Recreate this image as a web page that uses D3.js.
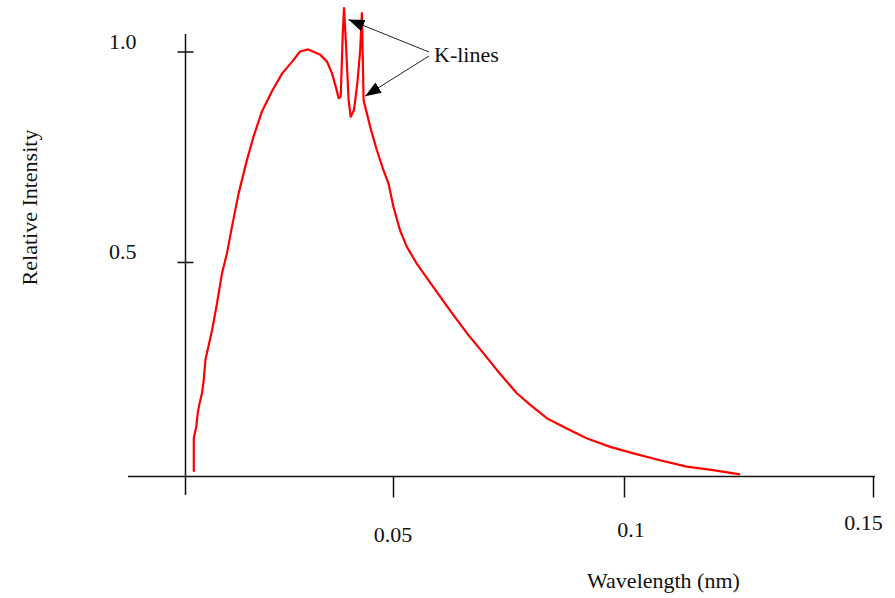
<!DOCTYPE html>
<html>
<head>
<meta charset="utf-8">
<script src="https://cdn.jsdelivr.net/npm/d3@7"></script>
<style>
  body { margin: 0; background: #fff; }
  text { font-family: "Liberation Serif", "Times New Roman", serif; fill: #111; }
</style>
</head>
<body>
<div id="chart"></div>
<script>
var width = 895,
    height = 598;

// wavelength (nm) and relative intensity
var wavelength = [0.0020, 0.0020, 0.0026, 0.0030, 0.0034, 0.0040, 0.0044, 0.0048, 0.0064, 0.0076,
    0.0088, 0.0100, 0.0112, 0.0128, 0.0148, 0.0164, 0.0184, 0.0208, 0.0233, 0.0257,
    0.0276, 0.0296, 0.0325, 0.0341, 0.0353, 0.0363, 0.0369, 0.0374, 0.0379, 0.0382,
    0.0387, 0.0393, 0.0398, 0.0406, 0.0414, 0.0421, 0.0425, 0.0428, 0.0429, 0.0437,
    0.0445, 0.0461, 0.0477, 0.0489, 0.0501, 0.0515, 0.0530, 0.0551, 0.0587, 0.0623,
    0.0660, 0.0696, 0.0732, 0.0768, 0.0797, 0.0833, 0.0876, 0.0919, 0.0970, 0.1019,
    0.1072, 0.1126, 0.1179, 0.1233];
var intensity = [0.011, 0.090, 0.116, 0.151, 0.171, 0.195, 0.225, 0.272, 0.341, 0.404,
    0.474, 0.521, 0.584, 0.663, 0.742, 0.798, 0.857, 0.905, 0.948, 0.976,
    1.000, 1.005, 0.992, 0.976, 0.948, 0.913, 0.889, 0.893, 1.044, 1.103,
    1.011, 0.885, 0.845, 0.861, 0.924, 1.004, 1.091, 0.944, 0.885, 0.853,
    0.821, 0.766, 0.718, 0.687, 0.631, 0.576, 0.536, 0.497, 0.442, 0.388,
    0.334, 0.287, 0.239, 0.194, 0.167, 0.136, 0.112, 0.089, 0.069, 0.054,
    0.038, 0.023, 0.015, 0.005];

var xTicks = [0.05, 0.1, 0.15],
    xTickLabels = ["0.05", "0.1", "0.15"];
var yTicks = [0.5, 1],
    yTickLabels = ["0.5", "1.0"];

// where the two K-line arrows point (data units)
var kLines = [{x: 0.03926, y: 1.076}, {x: 0.04327, y: 0.894}];

// label nudges (px) for the hand placed x tick labels
var xLabelDx = [0, 7, -9.5],
    xLabelBase = [542, 537, 530];

var series = wavelength.map(function (d, i) { return {w: d, v: intensity[i]}; });

var x = d3.scaleLinear().domain([0, 0.05, 0.1, 0.15]).range([185.5, 393, 624, 873]);
var y = d3.scaleLinear().domain([0, 0.5, 1]).range([476.5, 262, 51.5]);

var svg = d3.select("#chart").append("svg")
    .attr("width", width)
    .attr("height", height);

var defs = svg.append("defs");
defs.append("marker")
    .attr("id", "head")
    .attr("viewBox", "0 0 16 12")
    .attr("refX", 16)
    .attr("refY", 6)
    .attr("markerWidth", 16)
    .attr("markerHeight", 12)
    .attr("markerUnits", "userSpaceOnUse")
    .attr("orient", "auto")
    .append("path")
    .attr("d", "M0,0 L16,6 L0,12 Z")
    .attr("fill", "#000");

// axis lines
svg.append("line")
    .attr("x1", x(0)).attr("x2", x(0))
    .attr("y1", 34).attr("y2", 495)
    .attr("stroke", "#111").attr("stroke-width", 1.5);
svg.append("line")
    .attr("x1", 128).attr("x2", 875)
    .attr("y1", y(0)).attr("y2", y(0))
    .attr("stroke", "#111").attr("stroke-width", 1.5);

// y ticks, crossing the axis
var yAxis = svg.append("g")
    .attr("transform", "translate(" + x(0) + ",0)")
    .call(d3.axisLeft(y).tickValues(yTicks).tickSize(8).tickFormat(""));
yAxis.select(".domain").remove();
yAxis.selectAll(".tick line")
    .attr("x1", -8).attr("x2", 8)
    .attr("stroke", "#111").attr("stroke-width", 1.5);

svg.selectAll(".ylab")
    .data(yTicks)
    .enter().append("text")
    .attr("class", "ylab")
    .attr("x", x(0) - 49)
    .attr("y", function (d) { return y(d) - 3; })
    .attr("font-size", 22)
    .style("text-anchor", "end")
    .text(function (d, i) { return yTickLabels[i]; });

// x ticks, below the axis only
var xAxis = svg.append("g")
    .attr("transform", "translate(0," + y(0) + ")")
    .call(d3.axisBottom(x).tickValues(xTicks).tickSize(21).tickFormat(""));
xAxis.select(".domain").remove();
xAxis.selectAll(".tick line")
    .attr("stroke", "#111").attr("stroke-width", 1.5);

svg.selectAll(".xlab")
    .data(xTicks)
    .enter().append("text")
    .attr("class", "xlab")
    .attr("x", function (d, i) { return x(d) + xLabelDx[i]; })
    .attr("y", function (d, i) { return xLabelBase[i]; })
    .attr("font-size", 22)
    .style("text-anchor", "middle")
    .text(function (d, i) { return xTickLabels[i]; });

// spectrum
var line = d3.line()
    .x(function (d) { return x(d.w); })
    .y(function (d) { return y(d.v); });
svg.append("path")
    .datum(series)
    .attr("d", line)
    .attr("fill", "none")
    .attr("stroke", "#ff0000")
    .attr("stroke-width", 2.2)
    .attr("stroke-linejoin", "round");

// K-lines annotation
svg.selectAll(".karrow")
    .data(kLines)
    .enter().append("line")
    .attr("class", "karrow")
    .attr("x1", 429)
    .attr("y1", function (d, i) { return 52 + i * 4; })
    .attr("x2", function (d) { return x(d.x); })
    .attr("y2", function (d) { return y(d.y); })
    .attr("stroke", "#222")
    .attr("stroke-width", 1)
    .attr("marker-end", "url(#head)");
svg.append("text")
    .attr("x", 434)
    .attr("y", 62)
    .attr("font-size", 22)
    .text("K-lines");

// axis titles
svg.append("text")
    .attr("x", 663.5)
    .attr("y", 588)
    .attr("font-size", 22)
    .style("text-anchor", "middle")
    .text("Wavelength (nm)");
svg.append("text")
    .attr("transform", "translate(37,207.5) rotate(-90)")
    .attr("font-size", 22)
    .style("text-anchor", "middle")
    .text("Relative Intensity");
</script>
</body>
</html>
